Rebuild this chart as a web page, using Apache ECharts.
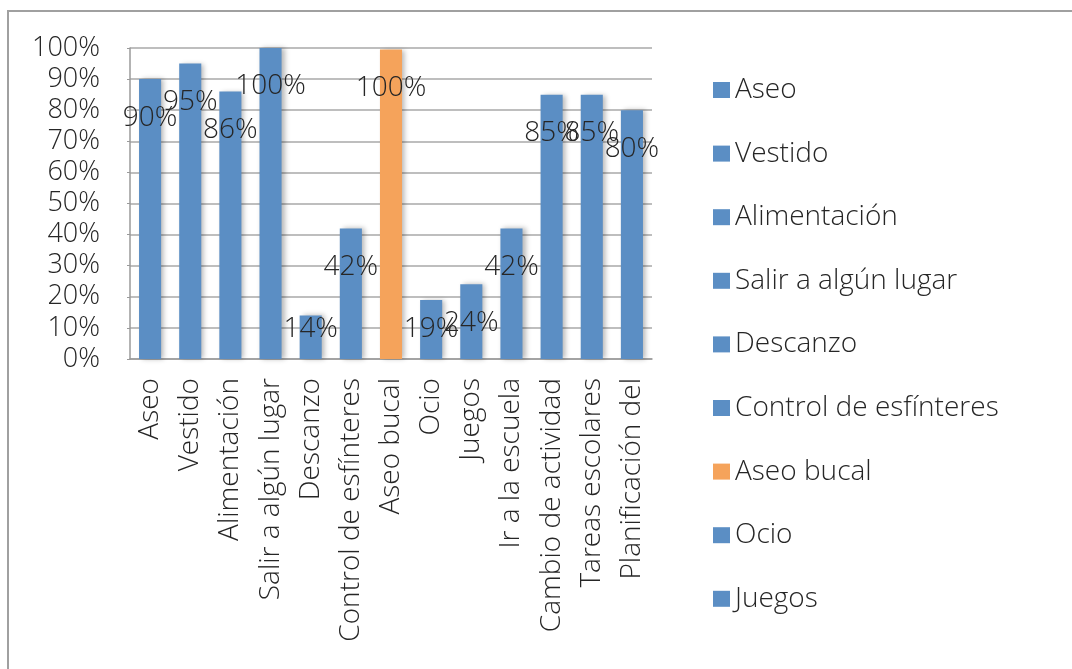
<!DOCTYPE html>
<html>
<head>
<meta charset="utf-8">
<script src="https://cdn.jsdelivr.net/npm/echarts@6/dist/echarts.min.js"></script>
<style>
html,body{margin:0;padding:0;background:#fff;}
#chart{width:1072px;height:669px;}
#frame{position:absolute;left:7px;top:10px;width:1072px;height:669px;border-left:2px solid #a0a0a0;border-top:2px solid #a0a0a0;pointer-events:none;}
</style>
</head>
<body>
<div id="chart"></div>
<div id="frame"></div>
<script>
const categories = ["Aseo","Vestido","Alimentación","Salir a algún lugar","Descanzo","Control de esfínteres","Aseo bucal","Ocio","Juegos","Ir a la escuela","Cambio de actividad","Tareas escolares","Planificación del"];
const values = [90,95,86,100,14,42,99.5,19,24,42,85,85,80];
const barColors = ["#5b8ec4","#5b8ec4","#5b8ec4","#5b8ec4","#5b8ec4","#5b8ec4","#f5a35b","#5b8ec4","#5b8ec4","#5b8ec4","#5b8ec4","#5b8ec4","#5b8ec4"];
const legendNames = ["Aseo","Vestido","Alimentación","Salir a algún lugar","Descanzo","Control de esfínteres","Aseo bucal","Ocio","Juegos"];
const yTicks = {min:0, max:100, interval:10};

const FONT = "'Open Sans', sans-serif";
const TXT = "#262626";
const FW = 300;
const gridTop = 48, gridBottom = 310, chartH = 669;
const plotH = chartH - gridTop - gridBottom;

const series = categories.map((name, i) => {
  const data = categories.map((c, j) => j === i ? values[i] : '-');
  const h = values[i] / yTicks.max * plotH;
  const off = Math.min(38.5, h - 30);
  return {
    name: name,
    type: 'bar',
    stack: 'all',
    barWidth: '55%',
    data: data,
    itemStyle: {
      color: barColors[i],
      shadowColor: 'rgba(0,0,0,0.28)',
      shadowBlur: 5,
      shadowOffsetX: 3
    },
    label: {
      show: true,
      position: ['50%', off],
      align: 'center',
      verticalAlign: 'middle',
      formatter: p => Math.round(p.value) + '%',
      fontFamily: FONT,
      fontWeight: FW,
      fontSize: 28,
      color: TXT
    },
    emphasis: {disabled: true}
  };
});

const chart = echarts.init(document.getElementById('chart'));
chart.setOption({
  animation: false,
  backgroundColor: '#fff',
  grid: {left: 130, right: 420, top: gridTop, bottom: gridBottom, containLabel: false},
  legend: {
    data: legendNames,
    orient: 'vertical',
    left: 708,
    top: 70,
    itemWidth: 17,
    itemHeight: 16,
    itemGap: 33.6,
    icon: 'rect',
    textStyle: {fontFamily: FONT, fontWeight: FW, fontSize: 28, color: TXT, lineHeight: 30},
    selectedMode: false
  },
  xAxis: {
    type: 'category',
    data: categories,
    axisLine: {lineStyle: {color: '#9a9a9a', width: 1.5}},
    axisTick: {show: false},
    axisLabel: {
      interval: 0,
      rotate: 90,
      margin: 19,
      fontFamily: FONT,
      fontWeight: FW,
      fontSize: 28,
      color: TXT
    }
  },
  yAxis: {
    type: 'value',
    min: yTicks.min,
    max: yTicks.max,
    interval: yTicks.interval,
    axisLine: {show: true, lineStyle: {color: '#9a9a9a', width: 1.5}},
    axisTick: {show: true, length: 3, lineStyle: {color: '#9a9a9a'}},
    splitLine: {lineStyle: {color: '#a8a8a8', width: 1.5}},
    axisLabel: {
      formatter: '{value}%',
      margin: 30,
      padding: [7, 0, 0, 0],
      fontFamily: FONT,
      fontWeight: FW,
      fontSize: 27,
      color: TXT
    }
  },
  series: series
});
</script>
</body>
</html>
